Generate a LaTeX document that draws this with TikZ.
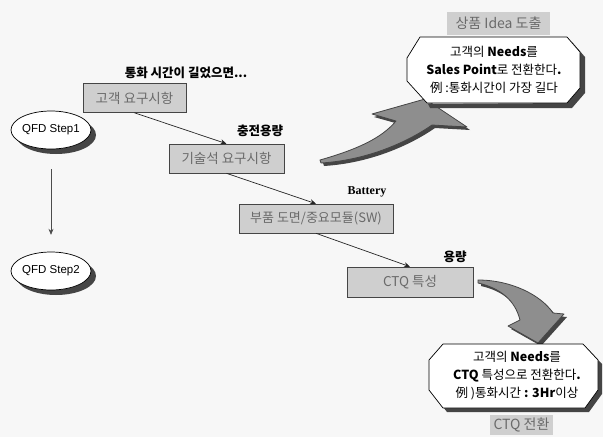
\documentclass[tikz,border=0pt]{standalone}
\usepackage{fontspec}
\setmainfont{Noto Sans CJK KR}
\newfontfamily\lsans{Liberation Sans}
\newfontfamily\lserif{Liberation Serif}
\usetikzlibrary{arrows.meta,shapes.geometric}
\definecolor{bgc}{HTML}{F7F7F7}
\definecolor{boxfill}{HTML}{CFCFCF}
\definecolor{boxtext}{HTML}{6A6A6A}
\definecolor{bigarrow}{HTML}{8E8E8E}
\definecolor{darkshade}{HTML}{454545}
\tikzset{
  reqbox/.style={draw=darkshade, line width=0.6pt, fill=boxfill, text=boxtext, font=\fontsize{13.5}{15}\selectfont, inner sep=0pt},
  lbl/.style={font=\fontsize{12.5}{14}\selectfont\bfseries, inner sep=0pt},
  steptext/.style={ellipse, minimum width=80pt, minimum height=38pt, inner sep=0pt, font=\lsans\fontsize{11.5}{13}\selectfont},
  ellface/.style={fill=white, draw=black, line width=0.7pt},
  ellshadow/.style={fill=darkshade},
  thinarrow/.style={-{Stealth[length=6pt,width=5pt]}, line width=0.7pt, draw=black!85},
  tag/.style={fill=boxfill, text=boxtext, font=\fontsize{14}{15}\selectfont, inner sep=0pt},
  calltext/.style={align=center, font=\fontsize{12.5}{18}\selectfont, inner sep=0pt},
  octa/.style={fill=white, draw=black, line width=0.7pt, line join=round},
  octshadow/.style={fill=darkshade},
  bigarr/.style={fill=bigarrow, draw=darkshade, line width=0.8pt, line join=round},
  bigarrshadow/.style={fill=darkshade}
}
\begin{document}
\begin{tikzpicture}[x=1pt,y=-1pt]
\useasboundingbox (0,0) rectangle (603,437);
\fill[bgc] (0,0) rectangle (603,437);

% left column
\fill[ellshadow] (56,135) ellipse (40pt and 19pt);
\fill[ellshadow] (56,276) ellipse (40pt and 19pt);
\filldraw[ellface] (51,130) ellipse (40pt and 19pt);
\filldraw[ellface] (51,271) ellipse (40pt and 19pt);
\node[steptext] (s1) at (51,130) {QFD Step1};
\node[steptext] (s2) at (51,271) {QFD Step2};
\draw[thinarrow, draw=black!70, shorten <=20pt, shorten >=17pt] (s1.south) -- (s2.north);

% requirement chain
\node[lbl] (l1) at (186,73) {통화 시간이 길었으면...};
\node[reqbox, minimum width=103pt, minimum height=29pt] (b1) at (134.5,98) {고객 요구시항};
\node[lbl] (l2) at (260,131) {충전용량};
\node[reqbox, minimum width=115pt, minimum height=29pt] (b2) at (226.5,158.5) {기술석 요구시항};
\node[font=\lserif\bfseries\fontsize{12}{14}\selectfont, inner sep=0pt] (l3) at (367,192) {Battery};
\node[reqbox, font=\fontsize{13}{15}\selectfont, minimum width=154pt, minimum height=29pt] (b3) at (316,218.5) {부품 도면/중요모듈(SW)};
\node[lbl] (l4) at (455,257) {용량};
\node[reqbox, minimum width=126pt, minimum height=30pt] (b4) at (410,282) {CTQ 특성};

\draw[thinarrow] (b1.south) -- (b2.north);
\draw[thinarrow] (b2.south) -- (b3.north);
\draw[thinarrow] (b3.south) -- (b4.north);

% top curved arrow
\fill[bigarrshadow] (323,163) .. controls (358,153) and (384,142) .. (399,124) -- (374,117) -- (427,101) -- (470,130) -- (435,128) .. controls (412,144) and (372,163) .. (324,166) -- cycle;
\draw[bigarr] (320,160) .. controls (355,150) and (381,139) .. (396,121) -- (372,114) -- (425,99) -- (467,127) -- (432,125) .. controls (409,141) and (369,160) .. (321,163) -- cycle;

% top callout
\fill[octshadow] (425,42) -- (572,42) -- (585,57) -- (585,93) -- (572,108) -- (430,108) -- (428,104) -- (567,103) -- (580,88) -- (580,52) -- (567,37) -- cycle;
\draw[octa] (420,37) -- (567,37) -- (580,52) -- (580,88) -- (567,103) -- (427,103) -- (407,81) -- (407,58) -- cycle;
\node[calltext] (c1) at (494,70) {고객의 \textbf{Needs}를\\\textbf{Sales Point}로 전환한다\textbf{.}\\例 :통화시간이 가장 길다};
\node[tag, minimum width=103pt, minimum height=23pt] (t1) at (498.5,23.5) {상품 Idea 도출};

% bottom curved arrow
\fill[bigarrshadow] (481,283) .. controls (514,283) and (544,298) .. (556,316) -- (567,317) -- (541,346) -- (511,329) -- (523,323) .. controls (518,303) and (503,291) .. (481,286) -- cycle;
\draw[bigarr] (478,280) .. controls (511,280) and (541,295) .. (553,313) -- (564,314) -- (538,343) -- (508,326) -- (520,320) .. controls (515,300) and (500,288) .. (478,283) -- cycle;

% bottom callout
\fill[octshadow] (447,348) -- (587,348) -- (602,364) -- (602,394) -- (589,412) -- (447,412) -- (433,394) -- (433,364) -- cycle;
\draw[octa] (443,344) -- (583,344) -- (598,360) -- (598,390) -- (585,408) -- (443,408) -- (429,390) -- (429,360) -- cycle;
\node[calltext] (c2) at (517,376) {고객의 \textbf{Needs}를\\\textbf{CTQ} 특성으로 전환한다\textbf{.}\\例 )통화시간 \textbf{: 3Hr}이상};
\node[tag, minimum width=63pt, minimum height=20pt] (t2) at (521.5,425) {CTQ 전환};
\end{tikzpicture}
\end{document}
